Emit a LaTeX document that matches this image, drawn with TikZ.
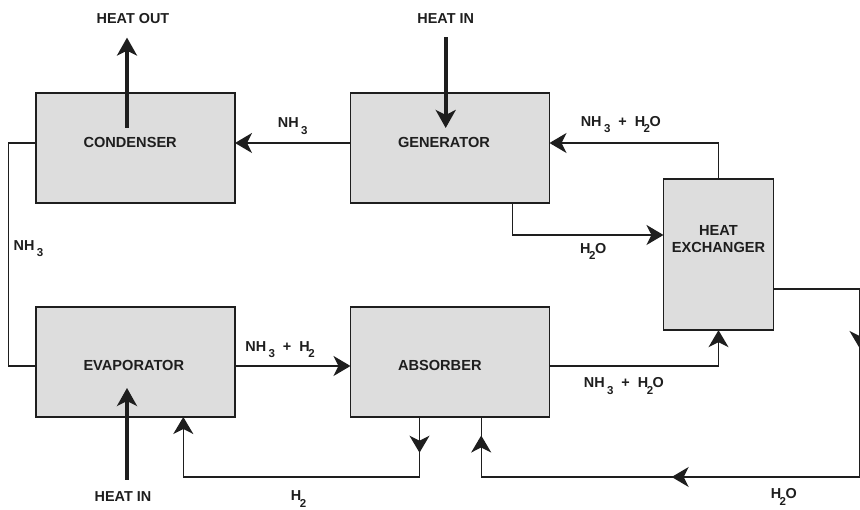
\documentclass[tikz,border=0pt]{standalone}
\usepackage{fontspec}
\setmainfont{Liberation Sans}
\usetikzlibrary{calc,arrows.meta,positioning,decorations.markings}
\definecolor{unitColor}{RGB}{221,221,221}
\definecolor{lineColor}{RGB}{30,30,30}
\newcommand{\unitfont}{\fontsize{14.6}{17.4}\selectfont\bfseries}
\newcommand{\tagfont}{\fontsize{14.4}{17}\selectfont\bfseries}
\newcommand{\lo}[1]{\raisebox{-6.5pt}{\fontsize{11.5}{13}\selectfont #1}}

\begin{document}
\begin{tikzpicture}[x=1pt, y=1pt,
        unit/.style={draw=lineColor, line width=1.8pt, fill=unitColor, outer sep=0pt, minimum width=199pt, minimum height=110pt, text width=104pt, align=left, font=\unitfont, text=lineColor},
        pipe/.style={line width=1.4pt, lineColor},
        flow/.style={pipe, -{Stealth[length=17pt, width=20pt, inset=5pt]}},
        heat/.style={line width=4pt, lineColor, -{Stealth[length=18pt, width=20pt, inset=5pt]}},
        lbl/.style={inner sep=0pt, font=\tagfont, text=lineColor},
        midtip/.style={postaction={decorate, decoration={markings, mark=at position #1 with {\arrow{Stealth[length=17pt, width=20pt, inset=5pt]}}}}}
      ]
      \useasboundingbox (0,0) rectangle (860,510);

      % boxes
      \node[unit, text depth=11pt] (cond) at (135.5,362) {CONDENSER};
      \node[unit, text depth=11pt, right=115.5pt of cond] (gen) {GENERATOR};
      \node[unit, text height=16.6pt, below=104pt of cond] (evap) {EVAPORATOR};
      \node[unit, text height=16.6pt, right=115.5pt of evap] (abs) {ABSORBER};
      \node[unit, text width=, align=center, minimum width=110pt, minimum height=151pt, text depth=32pt] (hx) at (718.5,255.3) {HEAT\\EXCHANGER};

      % heat in / out
      \node[lbl] (heatout) at (133,491.7) {HEAT OUT};
      \node[lbl] (genin) at (445.7,491.7) {HEAT IN};
      \node[lbl] (evapin) at (123,13) {HEAT IN};
      \draw[heat] ($(cond.center)+(-8.5,20)$) -- ($(cond.center |- heatout.south)+(-8.5,-14)$);
      \draw[heat] ($(genin.south)+(0,-14)$) -- ($(genin.south |- gen.center)+(0,20)$);
      \draw[heat] ($(evapin.north)+(4,12)$) -- ($(evapin.north |- evap.center)+(4,-26)$);

      % ammonia loop
      \draw[flow] ([yshift=5pt]gen.west) -- node[lbl, above=8pt, pos=0.5]{NH\,\lo{3}} ([yshift=5pt]cond.east);
      \coordinate (ret) at (8.5,261.3);
      \draw[pipe] ([yshift=5pt]cond.west) -| (ret) node[lbl, right=4.5pt]{NH\,\lo{3}} |- ([yshift=-4pt]evap.west);
      \draw[flow] ([yshift=-4pt]evap.east) -- node[lbl, above=7.5pt, pos=0.39]{NH\,\lo{3}~~+~~H\kern-1.5pt\lo{2}} ([yshift=-4pt]abs.west);

      % solution loop
      \draw[flow] ([yshift=-4pt]abs.east) -| node[lbl, below=11pt, pos=0.22]{NH\,\lo{3}~~+~~H\kern-1.5pt\lo{2}\kern-0.5ptO} (hx.south);
      \draw[flow] (hx.north) |- node[lbl, above=9.5pt, pos=0.789]{NH\,\lo{3}~~+~~H\kern-1.5pt\lo{2}\kern-0.5ptO} ([yshift=5pt]gen.east);
      \draw[flow] ([xshift=62.7pt]gen.south) |- node[lbl, below=7.7pt, pos=0.767]{H\kern-1.5pt\lo{2}\kern-0.5ptO} ([yshift=19.7pt]hx.west);

      % water return
      \coordinate (edge) at (859.5,33);
      \draw[pipe, midtip=145pt, midtip=461.8pt, midtip=693.8pt] ([yshift=-34.3pt]hx.east) -| (edge) -| node[lbl, below=11pt, pos=0.1]{H\kern-1.5pt\lo{2}\kern-0.5ptO} ([xshift=31.2pt]abs.south);

      % hydrogen return
      \coordinate (h2turn) at (183.3,33);
      \draw[flow, midtip=35.7pt] ([xshift=-30.5pt]abs.south) |- node[lbl, below=13pt, pos=0.756]{H\kern-1.5pt\lo{2}} (h2turn) -- ([xshift=47.8pt]evap.south);
    \end{tikzpicture}
\end{document}
